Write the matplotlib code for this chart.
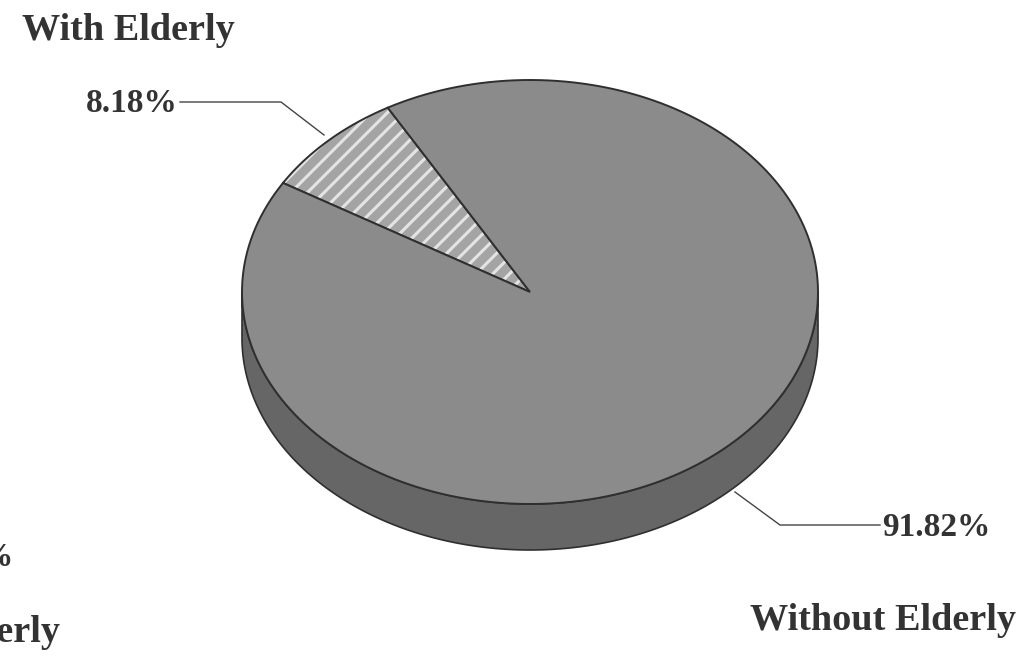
import numpy as np
import matplotlib
matplotlib.use("Agg")
import matplotlib.pyplot as plt
from matplotlib.patches import Polygon

# Household shares
labels = ["With Elderly", "Without Elderly"]
shares = [8.18, 91.82]
pct_labels = ["8.18%", "91.82%"]

# pie geometry in pixel space (y grows downward)
cx, cy = 530, 292
rx, ry = 288, 212
depth = 46
start_deg = 119.6

top_grey = "#8b8b8b"
side_grey = "#666666"
edge_grey = "#2f2f2f"
text_grey = "#333333"

plt.rcParams["hatch.linewidth"] = 2.2

fig = plt.figure(figsize=(10.32, 6.58), dpi=100)
ax = fig.add_axes([0, 0, 1, 1])
ax.set_xlim(0, 1032)
ax.set_ylim(658, 0)
ax.axis("off")


def rim(t0, t1, dy=0, n=200):
    t = np.radians(np.linspace(t0, t1, n))
    return np.column_stack([cx + rx * np.cos(t), cy - ry * np.sin(t) + dy])


# side wall (front half of the disc)
front = rim(180, 360)
back = rim(360, 180, dy=depth)
ax.add_patch(Polygon(np.vstack([front, back]), closed=True,
                     facecolor=side_grey, edgecolor=edge_grey, lw=1.2))

# top face slices
bounds = start_deg + np.concatenate([[0], np.cumsum(shares)]) * 360 / 100
for i, share in enumerate(shares):
    a0, a1 = bounds[i], bounds[i + 1]
    pts = np.vstack([[cx, cy], rim(a0, a1)])
    if i == 0:
        ax.add_patch(Polygon(pts, closed=True, facecolor="#a4a4a4",
                             edgecolor="#e4e4e4", hatch="//", lw=0))
        ax.add_patch(Polygon(pts, closed=True, facecolor="none",
                             edgecolor=edge_grey, lw=1.4))
    else:
        ax.add_patch(Polygon(pts, closed=True, facecolor=top_grey,
                             edgecolor=edge_grey, lw=1.4))

# leader lines and value labels
ax.plot([180, 281, 324], [102, 102, 135], color="#444444", lw=1)
ax.plot([735, 780, 880], [492, 525, 525], color="#444444", lw=1)

font = dict(family="Liberation Serif", weight="bold", color=text_grey)
ax.text(178, 103, pct_labels[0], ha="right", va="center", fontsize=24, **font)
ax.text(882, 527, pct_labels[1], ha="left", va="center", fontsize=24, **font)

ax.text(22, 30, labels[0], ha="left", va="center", fontsize=27.5, **font)
ax.text(1016, 621, labels[1], ha="right", va="center", fontsize=27.5, **font)

# neighbouring chart cut off at the left edge
ax.text(13, 557, "%", ha="right", va="center", fontsize=24, **font)
ax.text(60, 632, "Elderly", ha="right", va="center", fontsize=27.5, **font)

fig.savefig("out.png", dpi=100, facecolor="white")
